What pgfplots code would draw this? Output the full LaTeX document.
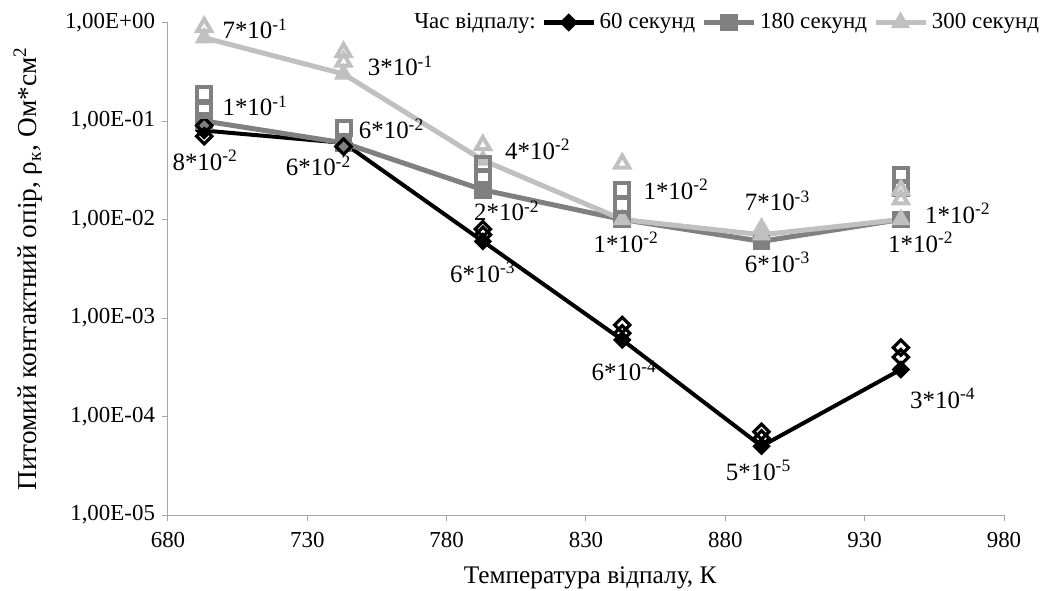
\documentclass[border=0pt]{standalone}
\usepackage{fontspec}
\setmainfont{Liberation Serif}
\usepackage{pgfplots}
\pgfplotsset{compat=1.18}
\definecolor{c60}{RGB}{0,0,0}
\definecolor{c180}{RGB}{128,128,128}
\definecolor{c300}{RGB}{192,192,192}
\newcommand{\lbl}[6]{\node[font=\fontsize{12.5}{14}\selectfont,inner sep=0pt,xshift=#3bp,yshift=#4bp] at (axis cs:#1,#2) {#5*10\textsuperscript{#6}};}
\begin{document}
\begin{tikzpicture}
\useasboundingbox (-84bp,-38bp) rectangle (439bp,257.5bp);
\begin{axis}[
  at={(0,0)}, anchor=south west,
  width=418bp, height=246.25bp, scale only axis,
  xmin=680, xmax=980, ymode=log, ymin=1e-5, ymax=1,
  axis lines*=left,
  axis line style={draw=gray!70, line width=0.5bp},
  tick style={draw=gray!70, line width=0.5bp},
  tick align=outside, major tick length=3bp,
  yminorticks=false,
  xtick={680,730,780,830,880,930,980},
  ytick={1e-5,1e-4,1e-3,1e-2,1e-1,1},
  yticklabels={{1,00E-05},{1,00E-04},{1,00E-03},{1,00E-02},{1,00E-01},{1,00E+00}},
  /pgf/number format/assume math mode=true,
  /pgf/number format/set thousands separator={},
  ticklabel style={font=\fontsize{11.5}{13}\selectfont},
  xticklabel style={yshift=-2bp},
  xlabel={Температура відпалу, К},
  ylabel={Питомий контактний опір, ρ\textsubscript{к}, Ом*см\textsuperscript{2}},
  every axis x label/.style={at={(axis description cs:0.505,-0.128)}, anchor=center, font=\fontsize{12.7}{15}\selectfont},
  every axis y label/.style={at={(axis description cs:-0.1675,0.5)}, rotate=90, anchor=center, font=\fontsize{13.7}{15}\selectfont},
  legend style={at={(axis description cs:1.047,1.0)}, anchor=east, draw=none, fill=none,
    font=\fontsize{11.5}{13}\selectfont, inner sep=0pt,
    /tikz/every even column/.append style={column sep=1bp}},
  legend columns=4,
  legend image code/.code={\draw[mark repeat=2,mark phase=2] plot coordinates {(0bp,0bp)(12.5bp,0bp)(25bp,0bp)};},
  clip=false,
]
\addlegendimage{empty legend}\addlegendentry{Час відпалу:}
% main series
\addplot[c60, line width=2bp, mark=square*, mark size=3bp, mark options={rotate=45, solid, fill=c60, line width=0.5bp}]
 coordinates {(693,0.08)(743,0.06)(793,0.006)(843,0.0006)(893,0.00005)(943,0.0003)};
\addlegendentry{60 секунд}
\addplot[c180, line width=2.5bp, mark=square*, mark size=4.2bp, mark options={solid, fill=c180, line width=0.5bp}]
 coordinates {(693,0.1)(743,0.06)(793,0.02)(843,0.01)(893,0.006)(943,0.01)};
\addlegendentry{180 секунд}
\addplot[c300, line width=2.5bp, mark=triangle*, mark size=5bp, mark options={solid, fill=c300, line width=0.5bp}]
 coordinates {(693,0.7)(743,0.3)(793,0.04)(843,0.01)(893,0.007)(943,0.01)};
\addlegendentry{300 секунд}
% individual measurements (hollow markers)
\addplot[forget plot, only marks, mark=square, mark size=2.7bp, mark options={rotate=45, draw=c60, fill=white, line width=1.6bp}]
 coordinates {(693,0.09)(693,0.07)(743,0.055)(793,0.008)(793,0.007)(843,0.00085)(843,0.0007)(893,0.00007)(893,0.00006)(943,0.0005)(943,0.0004)};
\addplot[forget plot, only marks, mark=square, mark size=3.5bp, mark options={draw=c180, fill=white, line width=2bp}]
 coordinates {(693,0.19)(693,0.13)(743,0.085)(793,0.037)(793,0.027)(843,0.02)(843,0.014)(943,0.028)(943,0.021)};
\addplot[forget plot, only marks, mark=triangle, mark size=4bp, mark options={draw=c300, fill=white, line width=2bp}]
 coordinates {(693,0.9)(743,0.5)(743,0.4)(793,0.057)(843,0.037)(893,0.008)(943,0.02)(943,0.016)};
% data labels
\lbl{693}{0.08}{0.5}{-15}{8}{-2}
\lbl{743}{0.06}{-12.5}{-11.5}{6}{-2}
\lbl{793}{0.006}{0}{-15.5}{6}{-3}
\lbl{843}{0.0006}{1}{-15.5}{6}{-4}
\lbl{893}{0.00005}{-1.5}{-12}{5}{-5}
\lbl{943}{0.0003}{21}{-14.5}{3}{-4}
\lbl{693}{0.1}{25.5}{7.5}{1}{-1}
\lbl{743}{0.06}{24}{7}{6}{-2}
\lbl{793}{0.02}{12}{-10.5}{2}{-2}
\lbl{843}{0.01}{2}{-11.5}{1}{-2}
\lbl{893}{0.006}{8}{-10.5}{6}{-3}
\lbl{943}{0.01}{10}{-11.5}{1}{-2}
\lbl{693}{0.7}{25.5}{4.5}{7}{-1}
\lbl{743}{0.3}{28.5}{4}{3}{-1}
\lbl{793}{0.04}{27.5}{5.5}{4}{-2}
\lbl{843}{0.01}{27}{15}{1}{-2}
\lbl{893}{0.007}{8}{17}{7}{-3}
\lbl{943}{0.01}{28.5}{3}{1}{-2}
\end{axis}
\end{tikzpicture}
\end{document}
